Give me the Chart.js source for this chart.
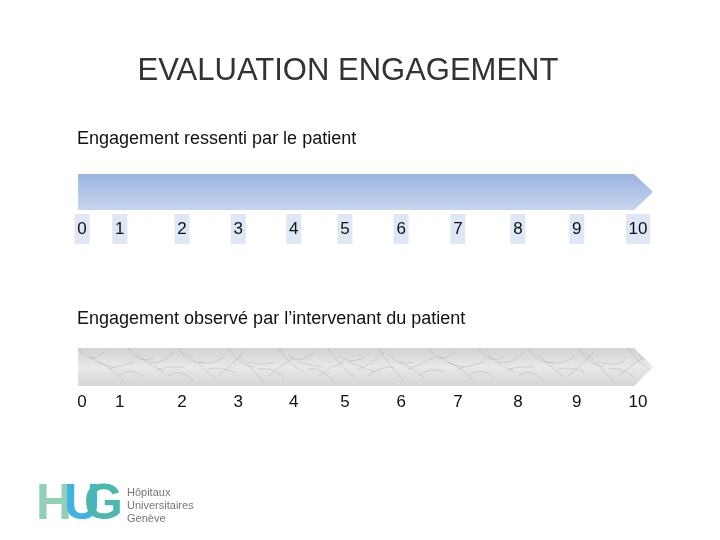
<!DOCTYPE html>
<html>
<head>
<meta charset="utf-8">
<script src="https://cdn.jsdelivr.net/npm/chart.js@4/dist/chart.umd.min.js"></script>
<style>
  html, body { margin: 0; padding: 0; background: #fff; }
  #wrap { width: 720px; height: 540px; position: relative; }
</style>
</head>
<body>
<div id="wrap"><canvas id="slide"></canvas></div>
<script>
// scale values 0..10 and where each label sits along the arrow
const scaleLabels = ['0', '1', '2', '3', '4', '5', '6', '7', '8', '9', '10'];
const labelPos = [0, 0.68, 1.8, 2.81, 3.81, 4.73, 5.74, 6.76, 7.84, 8.9, 10];
const rowTitles = ['Engagement ressenti par le patient', 'Engagement observé par l\u2019intervenant du patient'];
const rowLabelY = [229, 402];

const font = '"Liberation Sans", Arial, sans-serif';

// draws the arrow bands, the labels and the slide decoration
const slidePlugin = {
  id: 'slide',
  beforeDatasetsDraw(chart) {
    const { ctx, scales: { x, y } } = chart;
    ctx.save();
    ctx.fillStyle = '#333';
    ctx.font = '31px ' + font;
    ctx.textAlign = 'center';
    ctx.textBaseline = 'middle';
    ctx.fillText('EVALUATION ENGAGEMENT', 348, 71);

    ctx.font = '18px ' + font;
    ctx.textAlign = 'left';
    ctx.fillStyle = '#111';
    ctx.fillText(rowTitles[0], 77, 139);
    ctx.fillText(rowTitles[1], 77, 319);

    const arrow = (top, bot, fill) => {
      const x0 = x.getPixelForValue(-0.07), x1 = x.getPixelForValue(9.93), xt = x.getPixelForValue(10.27);
      const t = y.getPixelForValue(top), b = y.getPixelForValue(bot);
      ctx.beginPath();
      ctx.moveTo(x0, t); ctx.lineTo(x1, t); ctx.lineTo(xt, (t + b) / 2);
      ctx.lineTo(x1, b); ctx.lineTo(x0, b); ctx.closePath();
      ctx.fillStyle = fill(t, b);
      ctx.fill();
      return [x0, t, xt, b];
    };

    arrow(174, 210, (t, b) => {
      const g = ctx.createLinearGradient(0, t, 0, b);
      g.addColorStop(0, '#9cb4e0'); g.addColorStop(1, '#c6d5ef');
      return g;
    });

    const box = arrow(348, 386, (t, b) => {
      const g = ctx.createLinearGradient(0, t, 0, b);
      g.addColorStop(0, '#d2d2d4'); g.addColorStop(0.5, '#e8e8ea'); g.addColorStop(1, '#d6d6d8');
      return g;
    });
    // marble streaks
    ctx.clip();
    ctx.strokeStyle = 'rgba(150,150,155,0.3)';
    ctx.lineWidth = 1;
    for (let i = 0; i < 60; i++) {
      const sx = box[0] + i * 10;
      ctx.beginPath();
      ctx.moveTo(sx, box[1] + (i % 5) * 7);
      ctx.quadraticCurveTo(sx + 12, box[1] + 18, sx + 26, box[1] + ((i * 3) % 7) * 5 + 4);
      ctx.stroke();
    }
    ctx.restore();
  },
  afterDatasetsDraw(chart) {
    const { ctx, scales: { x, y } } = chart;
    ctx.save();
    ctx.font = '17px ' + font;
    ctx.textAlign = 'center';
    ctx.textBaseline = 'middle';
    chart.data.datasets.forEach((ds, di) => {
      ds.data.forEach((p, i) => {
        const px = x.getPixelForValue(p.x), py = y.getPixelForValue(p.y);
        const w = scaleLabels[i].length * 9 + 6;
        if (di === 0) {
          ctx.fillStyle = '#dfe6f4';
          ctx.fillRect(px - w / 2, py - 15, w, 30);
        }
        ctx.fillStyle = '#111';
        ctx.fillText(scaleLabels[i], px, py);
      });
    });

    // HUG logo
    ctx.font = 'bold 50px ' + font;
    ctx.textAlign = 'left';
    ctx.fillStyle = '#92d0b6'; ctx.fillText('H', 36, 505);
    ctx.fillStyle = '#3fb4e2'; ctx.fillText('U', 64, 505);
    ctx.fillStyle = '#4bb7ad'; ctx.fillText('G', 84, 505);
    ctx.font = '11px ' + font;
    ctx.fillStyle = '#777';
    ctx.fillText('H\u00f4pitaux', 127, 493);
    ctx.fillText('Universitaires', 127, 506);
    ctx.fillText('Gen\u00e8ve', 127, 519);
    ctx.restore();
  }
};

new Chart(document.getElementById('slide'), {
  type: 'scatter',
  data: {
    datasets: rowLabelY.map(rowY => ({
      data: labelPos.map(v => ({ x: v, y: rowY })),
      pointRadius: 0
    }))
  },
  options: {
    responsive: true,
    maintainAspectRatio: false,
    animation: false,
    layout: { padding: 0 },
    plugins: { legend: { display: false }, tooltip: { enabled: false } },
    scales: {
      x: { type: 'linear', display: false, min: -82 / 55.6, max: (720 - 82) / 55.6 },
      y: { type: 'linear', display: false, reverse: true, min: 0, max: 540 }
    }
  },
  plugins: [slidePlugin]
});
</script>
</body>
</html>
